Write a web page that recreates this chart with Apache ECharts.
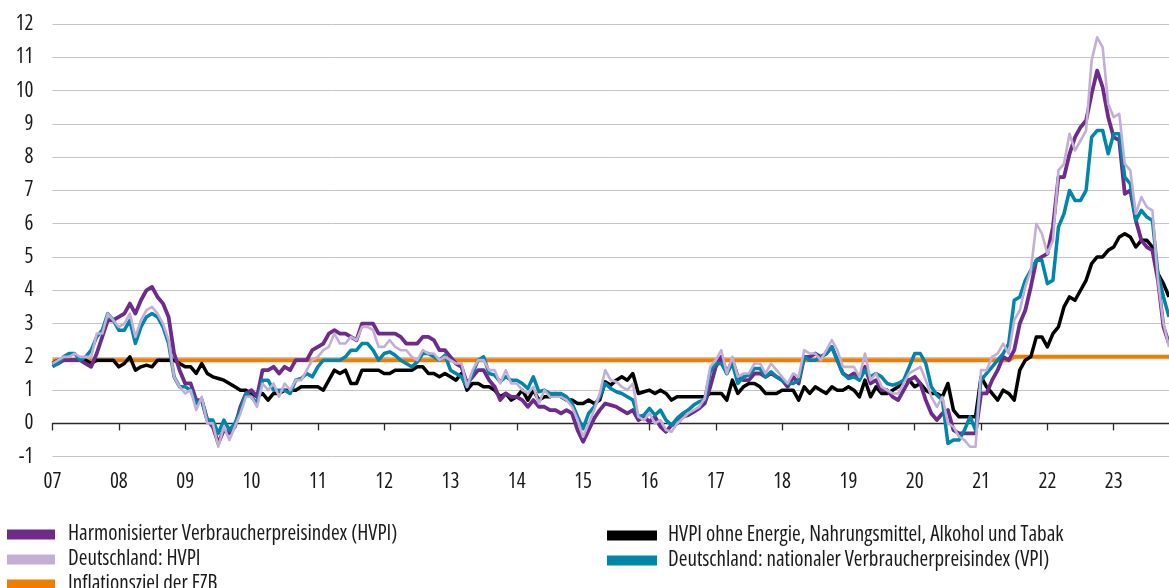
<!DOCTYPE html>
<html>
<head>
<meta charset="utf-8">
<script src="https://cdn.jsdelivr.net/npm/echarts/dist/echarts.min.js"></script>
<style>
html,body{margin:0;padding:0;background:#ffffff;}
#chart{width:1169px;height:588px;}
</style>
</head>
<body>
<div id="chart"></div>
<script>
// ---- data (monthly, Jan 2007 - Nov 2023) ----
const startYear = 2007;
const monthCount = 203;
const categories = [];
for (let i = 0; i < monthCount; i++) {
  const y = startYear + Math.floor(i / 12), m = (i % 12) + 1;
  categories.push(y + '-' + (m < 10 ? '0' : '') + m);
}

const hvpiEWU = [
  1.8,1.8,1.9,1.9,1.9,1.9,1.8,1.7,2.1,2.6,3.1,3.1,        // 2007
  3.2,3.3,3.6,3.3,3.7,4.0,4.1,3.8,3.6,3.2,2.1,1.6,        // 2008
  1.2,1.2,0.7,0.7,0.1,-0.1,-0.6,-0.2,-0.3,-0.1,0.5,0.9,   // 2009
  1.0,0.8,1.6,1.6,1.7,1.5,1.7,1.6,1.9,1.9,1.9,2.2,        // 2010
  2.3,2.4,2.7,2.8,2.7,2.7,2.6,2.5,3.0,3.0,3.0,2.7,        // 2011
  2.7,2.7,2.7,2.6,2.4,2.4,2.4,2.6,2.6,2.5,2.2,2.2,        // 2012
  2.0,1.8,1.7,1.2,1.4,1.6,1.6,1.3,1.1,0.7,0.9,0.8,        // 2013
  0.8,0.7,0.5,0.7,0.5,0.5,0.4,0.4,0.3,0.4,0.3,-0.2,       // 2014
  -0.55,-0.2,0.15,0.4,0.6,0.55,0.5,0.4,0.3,0.4,0.1,0.2,   // 2015
  0.05,0.2,-0.1,-0.25,-0.05,0.0,0.2,0.25,0.35,0.45,0.6,1.1, // 2016
  1.7,2.0,1.5,1.9,1.4,1.3,1.3,1.5,1.5,1.4,1.5,1.4,        // 2017
  1.3,1.1,1.4,1.2,2.0,2.0,2.1,2.0,2.1,2.3,1.9,1.5,        // 2018
  1.4,1.5,1.4,1.7,1.2,1.3,1.0,1.0,0.8,0.7,1.0,1.3,        // 2019
  1.4,1.2,0.7,0.3,0.1,0.3,0.4,-0.2,-0.3,-0.3,-0.3,-0.3,   // 2020
  0.9,0.9,1.3,1.6,2.0,1.9,2.2,3.0,3.4,4.1,4.9,5.0,        // 2021
  5.1,5.9,7.4,7.4,8.1,8.6,8.9,9.1,9.9,10.6,10.1,9.2,      // 2022
  8.6,8.5,6.9,7.0,6.1,5.5,5.3,5.2,4.3,2.9,2.4             // 2023
];

const hvpiDE = [
  1.8,1.9,2.0,2.0,2.1,2.0,2.0,2.0,2.7,2.7,3.3,3.1,
  2.9,3.0,3.3,2.6,3.1,3.4,3.5,3.3,3.0,2.5,1.4,1.1,
  0.9,1.0,0.4,0.8,0.0,0.0,-0.7,-0.1,-0.5,-0.1,0.3,0.8,
  0.8,0.5,1.2,1.0,1.2,0.8,1.2,1.0,1.3,1.3,1.6,1.9,
  2.0,2.2,2.3,2.7,2.4,2.4,2.6,2.5,2.9,2.9,2.8,2.3,
  2.3,2.5,2.3,2.2,2.2,2.0,1.9,2.2,2.1,2.1,1.9,2.0,
  1.9,1.8,1.8,1.1,1.6,1.9,1.9,1.6,1.6,1.2,1.6,1.2,
  1.2,1.0,0.9,1.1,0.6,1.0,0.8,0.8,0.8,0.7,0.5,0.1,
  -0.4,0.0,0.4,0.9,1.6,1.3,1.25,1.1,1.0,1.2,0.2,0.1,
  0.3,0.0,0.1,-0.2,-0.25,0.0,0.15,0.3,0.4,0.5,0.75,1.7,
  1.9,2.2,1.5,2.0,1.4,1.5,1.5,1.8,1.8,1.5,1.8,1.6,
  1.4,1.2,1.5,1.4,2.2,2.1,2.1,1.9,2.2,2.5,2.2,1.7,
  1.7,1.7,1.4,2.1,1.3,1.5,1.1,1.0,0.9,0.9,1.2,1.5,
  1.6,1.7,1.3,0.8,0.5,0.8,0.0,-0.1,-0.4,-0.5,-0.7,-0.7,
  1.6,1.6,2.0,2.1,2.4,2.1,3.1,3.4,4.1,4.6,6.0,5.7,
  5.1,5.5,7.6,7.8,8.7,8.2,8.5,8.8,10.9,11.6,11.3,9.6,
  9.2,9.3,7.8,7.6,6.3,6.8,6.5,6.4,4.3,3.0,2.3
];

const vpiDE = [
  1.7,1.8,2.0,2.1,2.1,1.9,2.0,2.2,2.6,2.8,3.3,3.1,
  2.8,2.8,3.1,2.4,2.9,3.2,3.3,3.2,2.9,2.4,1.4,1.1,
  1.1,1.0,0.6,0.7,0.1,0.1,-0.3,0.1,-0.2,0.0,0.4,0.9,
  0.8,0.6,1.3,1.3,1.0,1.0,1.0,0.9,1.3,1.35,1.5,1.4,
  1.7,1.9,1.9,1.9,1.9,2.0,2.2,2.2,2.4,2.4,2.2,1.9,
  2.1,2.15,2.05,1.9,1.8,1.7,1.85,2.1,2.1,2.0,1.9,2.05,
  1.6,1.5,1.4,1.1,1.5,1.9,2.0,1.5,1.45,1.25,1.4,1.3,
  1.3,1.2,1.05,1.4,0.95,1.0,0.9,0.9,0.9,0.8,0.6,0.2,
  -0.15,0.3,0.5,0.8,1.2,1.05,0.95,0.9,0.8,0.7,0.2,0.25,
  0.45,0.25,0.4,0.1,-0.05,0.15,0.3,0.4,0.55,0.65,0.7,1.55,
  1.8,1.8,1.5,1.8,1.2,1.4,1.45,1.65,1.65,1.4,1.55,1.4,
  1.3,1.2,1.2,1.3,2.0,1.9,1.9,2.0,2.1,2.3,1.9,1.5,
  1.35,1.4,1.3,1.6,1.4,1.5,1.4,1.2,1.15,1.2,1.3,1.7,
  2.1,2.1,1.8,1.1,0.85,0.7,-0.6,-0.5,-0.5,-0.2,0.2,-0.2,
  1.3,1.5,1.7,1.9,2.1,2.4,3.7,3.8,4.3,4.6,4.9,4.9,
  4.2,4.3,5.9,6.3,7.0,6.7,6.7,7.0,8.6,8.8,8.8,8.1,
  8.7,8.7,7.4,7.2,6.1,6.4,6.2,6.1,4.5,3.8,3.2
];

const kernEWU = [
  1.8,1.9,1.9,1.9,1.9,1.9,1.9,1.8,1.9,1.9,1.9,1.9,
  1.7,1.8,2.0,1.6,1.7,1.75,1.7,1.9,1.9,1.9,1.9,1.8,
  1.7,1.7,1.5,1.8,1.5,1.4,1.35,1.3,1.2,1.1,1.0,1.0,
  0.9,0.8,0.9,0.7,0.9,0.9,1.0,1.0,1.0,1.1,1.1,1.1,
  1.1,1.0,1.3,1.6,1.5,1.6,1.2,1.2,1.6,1.6,1.6,1.6,
  1.5,1.5,1.6,1.6,1.6,1.6,1.7,1.7,1.5,1.5,1.4,1.5,
  1.4,1.3,1.5,1.0,1.2,1.2,1.1,1.1,1.0,0.8,0.9,0.7,
  0.8,1.0,0.7,1.0,0.7,0.8,0.8,0.9,0.8,0.7,0.7,0.6,
  0.6,0.7,0.6,0.7,1.25,1.15,1.3,1.4,1.3,1.5,0.9,0.95,
  1.0,0.9,1.0,0.9,0.7,0.8,0.8,0.8,0.8,0.8,0.8,0.9,
  0.9,0.9,0.7,1.3,0.9,1.1,1.2,1.2,1.1,0.9,0.9,0.9,
  1.0,1.0,1.0,0.7,1.1,0.9,1.1,1.0,0.9,1.1,1.0,1.0,
  1.1,1.0,0.8,1.3,0.8,1.1,0.9,0.9,1.0,1.1,1.3,1.3,
  1.1,1.2,1.0,0.9,0.9,0.8,1.2,0.4,0.2,0.2,0.2,0.2,
  1.4,1.1,0.9,0.7,1.0,0.9,0.7,1.6,1.9,2.0,2.6,2.6,
  2.3,2.7,2.9,3.5,3.8,3.7,4.0,4.3,4.8,5.0,5.0,5.2,
  5.3,5.6,5.7,5.6,5.3,5.5,5.5,5.3,4.5,4.2,3.8
];

// ECB target: below but close to 2 % until June 2021, symmetric 2 % afterwards
const ezbZiel = [
  ['2007-01', 1.9], ['2021-06', 1.9], ['2021-07', 2.0], ['2023-11', 2.0]
];

const yTicks = { min: -1, max: 12, step: 1 };

const legendLeft = ['Harmonisierter Verbraucherpreisindex (HVPI)', 'Deutschland: HVPI', 'Inflationsziel der EZB'];
const legendRight = ['HVPI ohne Energie, Nahrungsmittel, Alkohol und Tabak', 'Deutschland: nationaler Verbraucherpreisindex (VPI)'];

// ---- pick a narrow font that is installed (reference uses a condensed face) ----
function pickFont() {
  const sample = legendLeft[0];
  const targetWidth = 330, baseSize = 20;
  const ctx = document.createElement('canvas').getContext('2d');
  const cands = [
    ['', "'Liberation Sans Narrow'"],
    ['condensed', "'Open Sans'"],
    ['semi-condensed', "'Open Sans'"],
    ['condensed', "Roboto"],
    ['semi-condensed', "Roboto"],
    ['condensed', "'Noto Sans'"],
    ['semi-condensed', "'Noto Sans'"],
    ['condensed', "'DejaVu Sans'"],
    ['', "'Liberation Sans'"]
  ];
  function width(font) { ctx.font = font; return ctx.measureText(sample).width; }
  let best = null;
  cands.forEach(function (c) {
    const pre = c[0] ? c[0] + ' ' : '';
    const a = width(pre + baseSize + 'px ' + c[1] + ', monospace');
    const b = width(pre + baseSize + 'px monospace');
    if (Math.abs(a - b) < 0.5) return;
    const size = baseSize * targetWidth / a;
    const score = Math.abs(size - baseSize);
    if (!best || score < best.score) best = { stretch: c[0], family: c[1], size: size, score: score };
  });
  return best || { stretch: '', family: 'sans-serif', size: 16.5 };
}
const F = pickFont();
const FONT = F.family + ', sans-serif';
const FW = F.stretch || 'normal';
const FS = Math.round(F.size * 10) / 10;
const TXT = '#1a1a1a';

const chart = echarts.init(document.getElementById('chart'), null, { renderer: 'canvas' });

function lineSeries(name, data, color, width, z) {
  return {
    name: name, type: 'line', data: data, xAxisIndex: 0, yAxisIndex: 0,
    symbol: 'none', showSymbol: false, smooth: false, z: z,
    lineStyle: { color: color, width: width, join: 'round' },
    itemStyle: { color: color },
    emphasis: { disabled: true }
  };
}

function legendItem(name, left, centerY, w, pad) {
  return {
    left: left, top: centerY - 10, padding: 0, orient: 'vertical', icon: 'rect',
    itemWidth: w, itemHeight: 10, selectedMode: false,
    textStyle: { fontSize: FS, fontFamily: FONT, fontWeight: FW, color: TXT, lineHeight: 20, padding: [0, 0, 0, pad] },
    data: [name]
  };
}

chart.setOption({
  animation: false,
  backgroundColor: '#ffffff',
  grid: { left: 52.5, right: 0, top: 24, bottom: 131.3, containLabel: false },
  xAxis: [
    {
      type: 'category', data: categories, boundaryGap: false, position: 'bottom',
      axisLine: { show: true, onZero: true, lineStyle: { color: '#2a2a2a', width: 1.3 } },
      axisTick: { show: true, interval: function (i) { return i % 12 === 0; }, length: 7, lineStyle: { color: '#2a2a2a', width: 1.3 } },
      axisLabel: { show: false },
      splitLine: { show: false }
    },
    {
      type: 'category', data: categories, boundaryGap: false, position: 'bottom',
      axisLine: { show: false, onZero: false },
      axisTick: { show: false },
      axisLabel: {
        show: true, interval: function (i) { return i % 12 === 0; },
        formatter: function (v) { return v.slice(2, 4); },
        margin: 15, fontSize: FS, fontFamily: FONT, fontWeight: FW, color: TXT
      },
      splitLine: { show: false }
    }
  ],
  yAxis: {
    type: 'value', min: yTicks.min, max: yTicks.max, interval: yTicks.step,
    axisLine: { show: false }, axisTick: { show: false },
    axisLabel: { fontSize: FS, fontFamily: FONT, fontWeight: FW, color: TXT, margin: 19 },
    splitLine: { show: true, lineStyle: { color: '#c4c4c4', width: 1 } }
  },
  legend: [
    legendItem(legendLeft[0], 7, 534, 48, 8),
    legendItem(legendLeft[1], 7, 559, 48, 8),
    legendItem(legendLeft[2], 7, 584, 48, 8),
    legendItem(legendRight[0], 607, 535, 50, 6),
    legendItem(legendRight[1], 607, 560, 50, 6)
  ],
  series: [
    lineSeries('Inflationsziel der EZB', ezbZiel, '#EF7D00', 4, 2),
    lineSeries('HVPI ohne Energie, Nahrungsmittel, Alkohol und Tabak', kernEWU, '#000000', 3.5, 3),
    lineSeries('Harmonisierter Verbraucherpreisindex (HVPI)', hvpiEWU, '#6E2B8B', 3.8, 4),
    lineSeries('Deutschland: nationaler Verbraucherpreisindex (VPI)', vpiDE, '#0086AA', 3.5, 5),
    lineSeries('Deutschland: HVPI', hvpiDE, '#C3AED6', 2.6, 6)
  ]
});
</script>
</body>
</html>
